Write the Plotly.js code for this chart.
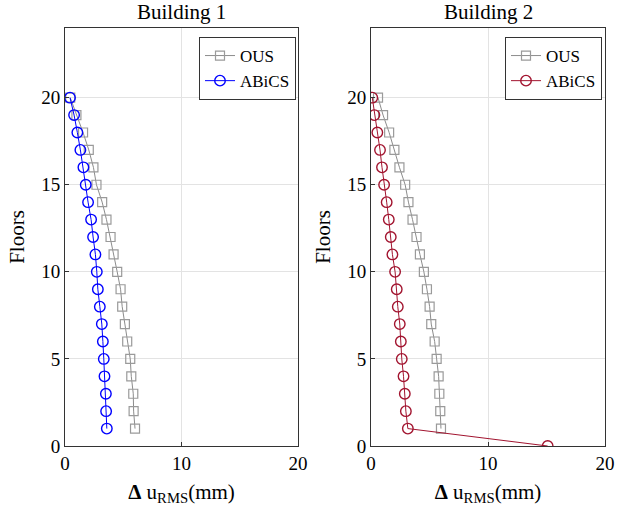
<!DOCTYPE html>
<html><head><meta charset="utf-8">
<script src="https://cdn.plot.ly/plotly-3.0.1.min.js"></script>
<style>body{margin:0;padding:0;background:#fff}#chart{width:628px;height:506px}</style>
</head><body><div id="chart"></div>
<script>
const floors1 = [1,2,3,4,5,6,7,8,9,10,11,12,13,14,15,16,17,18,19,20];
const b1OUS   = [6.01,5.89,5.86,5.69,5.60,5.34,5.14,4.91,4.77,4.48,4.17,3.91,3.56,3.19,2.70,2.44,2.04,1.55,0.98,0.45];
const b1ABiCS = [3.59,3.53,3.51,3.39,3.33,3.25,3.16,2.99,2.82,2.73,2.61,2.41,2.24,1.98,1.78,1.58,1.32,1.06,0.78,0.43];
const floors2OUS = [1,2,3,4,5,6,7,8,9,10,11,12,13,14,15,16,17,18,19,20];
const b2OUS   = [5.98,5.92,5.84,5.78,5.61,5.44,5.15,5.01,4.78,4.52,4.18,3.89,3.55,3.20,2.92,2.43,2.00,1.55,1.03,0.60];
const floors2ABiCS = [0,1,2,3,4,5,6,7,8,9,10,11,12,13,14,15,16,17,18,19,20];
const b2ABiCS = [15.1,3.15,2.98,2.89,2.78,2.63,2.55,2.46,2.29,2.20,2.06,1.83,1.69,1.52,1.34,1.12,0.94,0.77,0.54,0.29,0.11];
const xTicks = [0,10,20];
const yTicks = [0,5,10,15,20];

const gray = '#8c8c8c', grayM = '#9a9a9a', blue = '#0000ff', red = '#a2142f';
const font = 'Liberation Serif';

const traces = [
  {x:b1OUS, y:floors1, xaxis:'x', yaxis:'y', name:'OUS', legend:'legend', mode:'lines+markers',
   line:{color:gray,width:1}, marker:{symbol:'square-open',size:9,color:grayM,line:{width:1.2}}},
  {x:b1ABiCS, y:floors1, xaxis:'x', yaxis:'y', name:'ABiCS', legend:'legend', mode:'lines+markers',
   line:{color:blue,width:1}, marker:{symbol:'circle-open',size:10.5,color:blue,line:{width:1.4}}},
  {x:b2OUS, y:floors2OUS, xaxis:'x2', yaxis:'y2', name:'OUS', legend:'legend2', mode:'lines+markers',
   line:{color:gray,width:1}, marker:{symbol:'square-open',size:9,color:grayM,line:{width:1.2}}},
  {x:b2ABiCS, y:floors2ABiCS, xaxis:'x2', yaxis:'y2', name:'ABiCS', legend:'legend2', mode:'lines+markers',
   line:{color:red,width:1}, marker:{symbol:'circle-open',size:10.5,color:red,line:{width:1.4}}}
];

function xa(dom){return {domain:dom, range:[0,20], tickvals:xTicks, ticktext:xTicks.map(String), showgrid:true, gridcolor:'#e3e3e3',
  zeroline:false, showline:true, mirror:true, linecolor:'#333', linewidth:1, ticks:'inside', ticklen:4, tickcolor:'#333',
  tickfont:{family:font,size:19,color:'#000'},
  title:{text:'<b>Δ</b> u<sub>RMS</sub>(mm)', font:{family:font,size:21,color:'#000'}, standoff:14}};}
function ya(dom){return {domain:dom, range:[0,24], tickvals:yTicks, ticktext:yTicks.map(String), showgrid:true, gridcolor:'#e3e3e3',
  zeroline:false, showline:true, mirror:true, linecolor:'#333', linewidth:1, ticks:'inside', ticklen:4, tickcolor:'#333',
  tickfont:{family:font,size:19,color:'#000'},
  title:{text:'Floors', font:{family:font,size:21,color:'#000'}, standoff:10}};}

const ydom = [1-446/506, 1-28/506];
const legendBase = {y:1-37/506, xanchor:'right', yanchor:'top', bgcolor:'#fff', bordercolor:'#333', borderwidth:1,
    font:{family:font,size:17,color:'#000'}, tracegroupgap:0, itemwidth:30};
const layout = {
  width:628, height:506, margin:{l:0,r:0,t:0,b:0}, paper_bgcolor:'#fff', plot_bgcolor:'#fff',
  font:{family:font,color:'#000'},
  xaxis:Object.assign(xa([65/628,298/628]),{anchor:'y'}), yaxis:Object.assign(ya(ydom),{anchor:'x'}),
  xaxis2:Object.assign(xa([371/628,605/628]),{anchor:'y2'}), yaxis2:Object.assign(ya(ydom),{anchor:'x2'}),
  legend:Object.assign({x:296/628}, legendBase),
  legend2:Object.assign({x:602/628}, legendBase),
  annotations:[
    {text:'Building 1', xref:'paper', yref:'paper', x:181/628, y:1-12/506, xanchor:'center', yanchor:'middle', showarrow:false, font:{family:font,size:21,color:'#000'}},
    {text:'Building 2', xref:'paper', yref:'paper', x:488/628, y:1-12/506, xanchor:'center', yanchor:'middle', showarrow:false, font:{family:font,size:21,color:'#000'}}
  ]
};
Plotly.newPlot('chart', traces, layout, {displayModeBar:false, staticPlot:true});
</script></body></html>
